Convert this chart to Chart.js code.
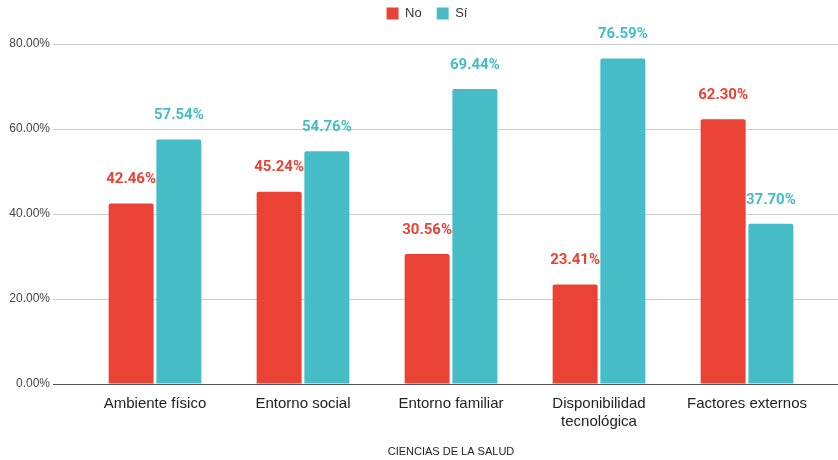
<!DOCTYPE html>
<html>
<head>
<meta charset="utf-8">
<script src="https://cdn.jsdelivr.net/npm/chart.js@4/dist/chart.umd.min.js"></script>
<style>
  html, body { margin: 0; padding: 0; background: #ffffff; }
  #wrap { width: 838px; height: 460px; position: relative; }
</style>
</head>
<body>
<div id="wrap"><canvas id="c" width="838" height="460"></canvas></div>
<script>
const categories = ['Ambiente físico', 'Entorno social', 'Entorno familiar', ['Disponibilidad', 'tecnológica'], 'Factores externos'];
const seriesNames = ['No', 'Sí'];
const noValues = [42.46, 45.24, 30.56, 23.41, 62.30];
const siValues = [57.54, 54.76, 69.44, 76.59, 37.70];
const yMin = 0;
const yMax = 80;
const yStep = 20;
const axisTitle = 'CIENCIAS DE LA SALUD';

const RED = '#EA4335';
const TEAL = '#46BDC6';
const FONT = '"Liberation Sans", Arial, sans-serif';

const gridColor = (ctx) => (ctx.tick && ctx.tick.value === 0) ? '#555555' : '#cccccc';

const legendSpacer = {
  id: 'legendSpacer',
  beforeInit(chart) {
    const lg = chart.legend;
    if (!lg) return;
    const fit = lg.fit;
    lg.fit = function () { fit.call(this); this.height += 14; };
  }
};

const valueLabels = {
  id: 'valueLabels',
  afterDatasetDraw(chart, args) {
    const ctx = chart.ctx;
    const ds = chart.data.datasets[args.index];
    const meta = args.meta;
    ctx.save();
    ctx.font = 'bold 15px Roboto, "Liberation Sans", Arial, sans-serif';
    ctx.fillStyle = ds.backgroundColor;
    ctx.textAlign = 'center';
    ctx.textBaseline = 'middle';
    meta.data.forEach((bar, i) => {
      ctx.fillText(ds.data[i].toFixed(2) + '%', bar.x, bar.y - 24);
    });
    ctx.restore();
  }
};

new Chart(document.getElementById('c'), {
  type: 'bar',
  data: {
    labels: categories,
    datasets: [
      { label: seriesNames[0], data: noValues, backgroundColor: RED, borderRadius: 2,
        categoryPercentage: 0.645, barPercentage: 0.943, yAxisID: 'y' },
      { label: seriesNames[1], data: siValues, backgroundColor: TEAL, borderRadius: 2,
        categoryPercentage: 0.645, barPercentage: 0.943, yAxisID: 'y' }
    ]
  },
  options: {
    responsive: false,
    animation: false,
    devicePixelRatio: 1,
    layout: { padding: { top: -8, left: 8, right: -8, bottom: 0 } },
    plugins: {
      tooltip: { enabled: false },
      legend: {
        position: 'top',
        align: 'center',
        labels: {
          boxWidth: 12, boxHeight: 12, padding: 15,
          color: '#333333',
          font: { family: FONT, size: 13 }
        }
      }
    },
    scales: {
      x: {
        grid: { display: false, drawTicks: false },
        border: { display: false },
        ticks: { color: '#222222', padding: 11, font: { family: FONT, size: 15 }, maxRotation: 0, autoSkip: false },
        title: { display: true, text: axisTitle, color: '#222222', font: { family: FONT, size: 11 }, padding: { top: 4, bottom: 1 } },
        afterFit(scale) { scale.height = 76; }
      },
      y: {
        position: 'left',
        min: yMin, max: yMax,
        ticks: {
          stepSize: yStep,
          color: '#444444', padding: 3,
          font: { family: FONT, size: 12 },
          callback: (v) => Number(v).toFixed(2) + '%'
        },
        grid: { color: gridColor, tickLength: 28, lineWidth: 1 },
        border: { display: false },
        afterFit(scale) { scale.width = 73; }
      },
      y2: {
        position: 'right',
        min: yMin, max: yMax,
        ticks: { display: false, stepSize: yStep },
        grid: { color: gridColor, drawOnChartArea: false, tickLength: 25, lineWidth: 1 },
        border: { display: false },
        afterFit(scale) { scale.width = 25; }
      }
    }
  },
  plugins: [legendSpacer, valueLabels]
});
</script>
</body>
</html>
